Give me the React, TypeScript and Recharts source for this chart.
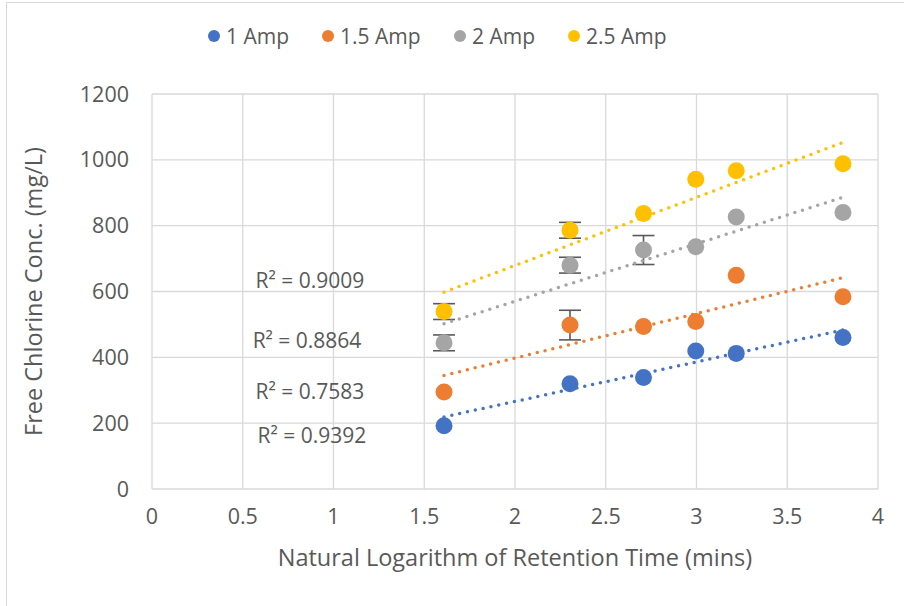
import { ScatterChart, Scatter, XAxis, YAxis, CartesianGrid, ErrorBar, ReferenceDot } from 'recharts';

// ln(retention time) for 5, 10, 15, 20, 25, 45 mins
const lnTime = [1.609, 2.303, 2.708, 2.996, 3.219, 3.807];

const amp1 = [192, 320, 339, 419, 412, 460];
const amp15 = [295, 498, 494, 509, 649, 584];
const amp2 = [444, 680, 726, 736, 826, 840];
const amp25 = [539, 786, 837, 941, 967, 988];

const err1 = [0, 0, 0, 0, 0, 0];
const err15 = [0, 45, 0, 0, 0, 0];
const err2 = [24, 24, 44, 0, 0, 0];
const err25 = [24, 24, 0, 0, 0, 0];

// linear trendline end points
const trendX = [1.609, 3.807];
const trend1 = [219, 483];
const trend15 = [345, 642];
const trend2 = [502, 886];
const trend25 = [598, 1053];

const r2Labels = ['R² = 0.9009', 'R² = 0.8864', 'R² = 0.7583', 'R² = 0.9392'];
const r2X = [0.87, 0.854, 0.87, 0.881];
const r2Y = [632, 450, 295, 161];

const xTicks = [0, 0.5, 1, 1.5, 2, 2.5, 3, 3.5, 4];
const yTicks = [0, 200, 400, 600, 800, 1000, 1200];

const FONT = '"Open Sans", sans-serif';
const TEXT = '#595959';
const GRID = '#D9D9D9';

const series = [
  { name: '1 Amp', color: '#4472C4', values: amp1, errs: err1, trend: trend1 },
  { name: '1.5 Amp', color: '#ED7D31', values: amp15, errs: err15, trend: trend15 },
  { name: '2 Amp', color: '#A5A5A5', values: amp2, errs: err2, trend: trend2 },
  { name: '2.5 Amp', color: '#FFC000', values: amp25, errs: err25, trend: trend25 },
];

// legend marker centres
const legendLeft = [214, 328, 460, 574];

const toRows = (vals: number[], errs: number[]) =>
  lnTime.map((x, i) => ({ x, y: vals[i], err: errs[i] }));

const toTrend = (ys: number[]) => trendX.map((x, i) => ({ x, y: ys[i] }));

export default function App() {
  return (
    <div style={{ position: 'absolute', left: 0, top: 0, width: 904, height: 606, background: '#fff', fontFamily: FONT }}>
      <div
        style={{
          position: 'absolute',
          left: 6,
          top: 2,
          width: 920,
          height: 620,
          borderTop: `1.5px solid ${GRID}`,
          borderLeft: `1.5px solid ${GRID}`,
        }}
      />
      {series.map((s, i) => (
        <div
          key={s.name}
          style={{ position: 'absolute', left: legendLeft[i] - 6, top: 23, display: 'flex', alignItems: 'center', gap: 6 }}
        >
          <span style={{ width: 12, height: 12, borderRadius: 6, background: s.color, display: 'inline-block' }} />
          <span style={{ fontSize: 21, color: TEXT, lineHeight: '26px', whiteSpace: 'nowrap' }}>{s.name}</span>
        </div>
      ))}
      <div style={{ position: 'absolute', left: 0, top: 0 }}>
        <ScatterChart width={904} height={606} margin={{ top: 94, right: 26, bottom: 57, left: 52 }}>
          <CartesianGrid stroke={GRID} strokeWidth={1.3} />
          <XAxis
            type="number"
            dataKey="x"
            domain={[0, 4]}
            ticks={xTicks}
            axisLine={false}
            tickLine={false}
            tickSize={0}
            tickMargin={20}
            height={60}
            tick={{ fill: TEXT, fontSize: 21.5, fontFamily: FONT }}
            label={{
              content: ({ viewBox }: any) => (
                <text
                  x={viewBox.x + viewBox.width / 2}
                  y={557}
                  textAnchor="middle"
                  dominantBaseline="central"
                  fill={TEXT}
                  fontSize={23.5}
                  fontFamily={FONT}
                >
                  Natural Logarithm of Retention Time (mins)
                </text>
              ),
            }}
          />
          <YAxis
            type="number"
            dataKey="y"
            domain={[0, 1200]}
            ticks={yTicks}
            axisLine={false}
            tickLine={false}
            tickSize={0}
            tickMargin={23}
            width={100}
            tick={{ fill: TEXT, fontSize: 21.5, fontFamily: FONT }}
            label={{
              content: ({ viewBox }: any) => {
                const cy = viewBox.y + viewBox.height / 2;
                return (
                  <text
                    x={33}
                    y={cy}
                    transform={`rotate(-90 33 ${cy})`}
                    textAnchor="middle"
                    dominantBaseline="central"
                    fill={TEXT}
                    fontSize={23.5}
                    fontFamily={FONT}
                  >
                    Free Chlorine Conc. (mg/L)
                  </text>
                );
              },
            }}
          />
          {series.map((s) => (
            <Scatter
              key={s.name + '-err'}
              name={s.name + ' error'}
              data={toRows(s.values, s.errs)}
              isAnimationActive={false}
              shape={() => <g />}
            >
              <ErrorBar dataKey="err" direction="y" width={11} stroke="#595959" strokeWidth={1.6} />
            </Scatter>
          ))}
          {series.map((s) => (
            <Scatter
              key={s.name}
              name={s.name}
              data={toRows(s.values, s.errs)}
              fill={s.color}
              isAnimationActive={false}
              shape={(p: any) => <circle cx={p.cx} cy={p.cy} r={8.5} fill={s.color} />}
            />
          ))}
          {series.map((s) => (
            <Scatter
              key={s.name + '-trend'}
              name={s.name + ' trend'}
              data={toTrend(s.trend)}
              isAnimationActive={false}
              line={{ stroke: s.color, strokeWidth: 3.5, strokeDasharray: '0 8', strokeLinecap: 'round' }}
              shape={() => <g />}
            />
          ))}
          {r2Labels.map((t, i) => (
            <ReferenceDot
              key={t}
              x={r2X[i]}
              y={r2Y[i]}
              r={0}
              fill="none"
              stroke="none"
              label={{ value: t, position: 'center', fill: TEXT, fontSize: 21, fontFamily: FONT }}
            />
          ))}
        </ScatterChart>
      </div>
    </div>
  );
}
